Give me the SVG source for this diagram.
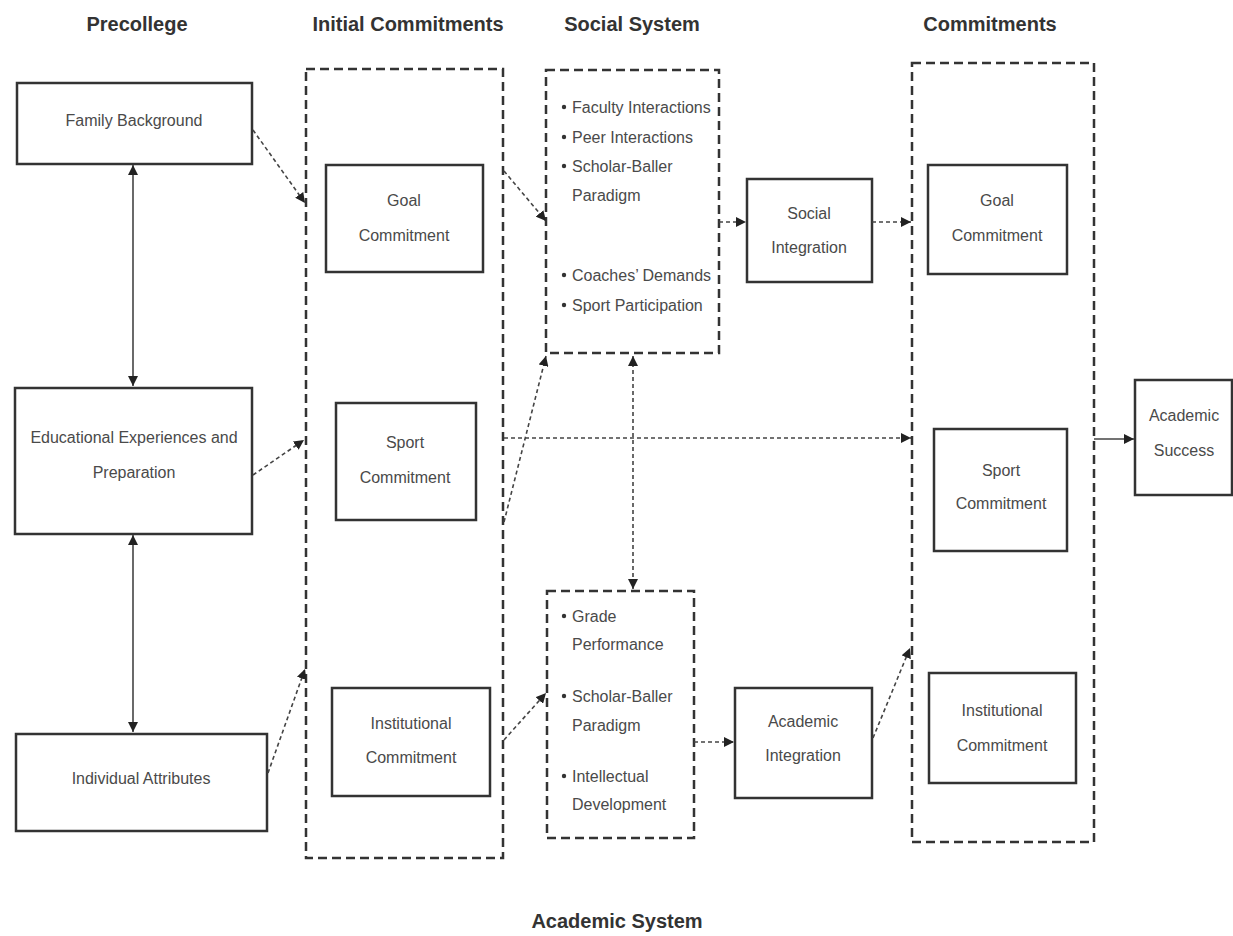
<svg xmlns="http://www.w3.org/2000/svg" width="1233" height="936" viewBox="0 0 1233 936">
<style>
.bg{fill:#fff}
.box{fill:#fff;stroke:#333;stroke-width:2.5}
.dbox{fill:none;stroke:#333;stroke-width:2.5;stroke-dasharray:9 5}
.t{font-family:"Liberation Sans Narrow","Liberation Sans",Arial,sans-serif;font-size:16px;fill:#4a4a4a;text-anchor:middle}
.b{font-family:"Liberation Sans Narrow","Liberation Sans",Arial,sans-serif;font-size:16px;fill:#4a4a4a}
.h{font-family:"Liberation Sans Narrow","Liberation Sans",Arial,sans-serif;font-size:20px;font-weight:bold;fill:#333;text-anchor:middle}
.dc{fill:none;stroke:#444;stroke-width:1.6;stroke-dasharray:4 3}
.sc{fill:none;stroke:#444;stroke-width:1.6}
</style>
<defs>
<marker id="ah" viewBox="0 0 10 10" refX="10" refY="5" markerWidth="10" markerHeight="10" markerUnits="userSpaceOnUse" orient="auto-start-reverse">
<path d="M0,0 L10,5 L0,10 z" fill="#222"/>
</marker>
</defs>
<rect class="bg" x="0" y="0" width="1233" height="936"/>

<g id="headings">
<text class="h" x="137" y="31">Precollege</text>
<text class="h" x="408" y="31">Initial Commitments</text>
<text class="h" x="632" y="31">Social System</text>
<text class="h" x="990" y="31">Commitments</text>
<text class="h" x="617" y="928">Academic System</text>
</g>

<g id="family-background">
<rect class="box" x="17" y="83" width="235" height="81"/>
<text class="t" x="134" y="126">Family Background</text>
</g>

<g id="educational-experiences">
<rect class="box" x="15" y="388" width="237" height="146"/>
<text class="t" x="134" y="443">Educational Experiences and</text>
<text class="t" x="134" y="478">Preparation</text>
</g>

<g id="individual-attributes">
<rect class="box" x="16" y="734" width="251" height="97"/>
<text class="t" x="141" y="784">Individual Attributes</text>
</g>

<g id="initial-commitments">
<rect class="dbox" x="306" y="69" width="197" height="789"/>
</g>

<g id="ic-goal">
<rect class="box" x="326" y="165" width="157" height="107"/>
<text class="t" x="404" y="206">Goal</text>
<text class="t" x="404" y="241">Commitment</text>
</g>

<g id="ic-sport">
<rect class="box" x="336" y="403" width="140" height="117"/>
<text class="t" x="405" y="448">Sport</text>
<text class="t" x="405" y="483">Commitment</text>
</g>

<g id="ic-institutional">
<rect class="box" x="332" y="688" width="158" height="108"/>
<text class="t" x="411" y="729">Institutional</text>
<text class="t" x="411" y="763">Commitment</text>
</g>

<g id="social-system">
<rect class="dbox" x="546" y="70" width="173" height="283"/>
<circle cx="564" cy="107" r="2.2" fill="#333"/>
<text class="b" x="572" y="113">Faculty Interactions</text>
<circle cx="564" cy="137" r="2.2" fill="#333"/>
<text class="b" x="572" y="143">Peer Interactions</text>
<circle cx="564" cy="166" r="2.2" fill="#333"/>
<text class="b" x="572" y="172">Scholar-Baller</text>
<text class="b" x="572" y="201">Paradigm</text>
<circle cx="564" cy="275" r="2.2" fill="#333"/>
<text class="b" x="572" y="281">Coaches’ Demands</text>
<circle cx="564" cy="305" r="2.2" fill="#333"/>
<text class="b" x="572" y="311">Sport Participation</text>
</g>

<g id="social-integration">
<rect class="box" x="747" y="179" width="125" height="103"/>
<text class="t" x="809" y="219">Social</text>
<text class="t" x="809" y="253">Integration</text>
</g>

<g id="academic-system">
<rect class="dbox" x="547" y="591" width="147" height="247"/>
<circle cx="564" cy="616" r="2.2" fill="#333"/>
<text class="b" x="572" y="622">Grade</text>
<text class="b" x="572" y="650">Performance</text>
<circle cx="564" cy="696" r="2.2" fill="#333"/>
<text class="b" x="572" y="702">Scholar-Baller</text>
<text class="b" x="572" y="731">Paradigm</text>
<circle cx="564" cy="776" r="2.2" fill="#333"/>
<text class="b" x="572" y="782">Intellectual</text>
<text class="b" x="572" y="810">Development</text>
</g>

<g id="academic-integration">
<rect class="box" x="735" y="688" width="137" height="110"/>
<text class="t" x="803" y="727">Academic</text>
<text class="t" x="803" y="761">Integration</text>
</g>

<g id="commitments">
<rect class="dbox" x="912" y="63" width="182" height="779"/>
</g>

<g id="c-goal">
<rect class="box" x="928" y="165" width="139" height="109"/>
<text class="t" x="997" y="206">Goal</text>
<text class="t" x="997" y="241">Commitment</text>
</g>

<g id="c-sport">
<rect class="box" x="934" y="429" width="133" height="122"/>
<text class="t" x="1001" y="476">Sport</text>
<text class="t" x="1001" y="509">Commitment</text>
</g>

<g id="c-institutional">
<rect class="box" x="929" y="673" width="147" height="110"/>
<text class="t" x="1002" y="716">Institutional</text>
<text class="t" x="1002" y="751">Commitment</text>
</g>

<g id="academic-success">
<rect class="box" x="1135" y="380" width="97" height="115"/>
<text class="t" x="1184" y="421">Academic</text>
<text class="t" x="1184" y="456">Success</text>
</g>

<g id="connectors">
<line class="sc" x1="133" y1="165" x2="133" y2="386" marker-start="url(#ah)" marker-end="url(#ah)"/>
<line class="sc" x1="133" y1="535" x2="133" y2="732" marker-start="url(#ah)" marker-end="url(#ah)"/>
<line class="dc" x1="253" y1="130" x2="305" y2="203" marker-end="url(#ah)"/>
<line class="dc" x1="253" y1="475" x2="304" y2="440" marker-end="url(#ah)"/>
<line class="dc" x1="268" y1="773" x2="305" y2="669" marker-end="url(#ah)"/>
<line class="dc" x1="504" y1="171" x2="546" y2="221" marker-end="url(#ah)"/>
<line class="dc" x1="504" y1="522" x2="546" y2="356" marker-end="url(#ah)"/>
<line class="dc" x1="504" y1="740" x2="546" y2="693" marker-end="url(#ah)"/>
<line class="dc" x1="504" y1="438" x2="911" y2="438" marker-end="url(#ah)"/>
<line class="dc" x1="719" y1="222" x2="746" y2="222" marker-end="url(#ah)"/>
<line class="dc" x1="872" y1="222" x2="911" y2="222" marker-end="url(#ah)"/>
<line class="dc" x1="633" y1="356" x2="633" y2="589" marker-start="url(#ah)" marker-end="url(#ah)"/>
<line class="dc" x1="694" y1="742" x2="734" y2="742" marker-end="url(#ah)"/>
<line class="dc" x1="873" y1="738" x2="910" y2="648" marker-end="url(#ah)"/>
<line class="sc" x1="1094" y1="439" x2="1134" y2="439" marker-end="url(#ah)"/>
</g>
</svg>
